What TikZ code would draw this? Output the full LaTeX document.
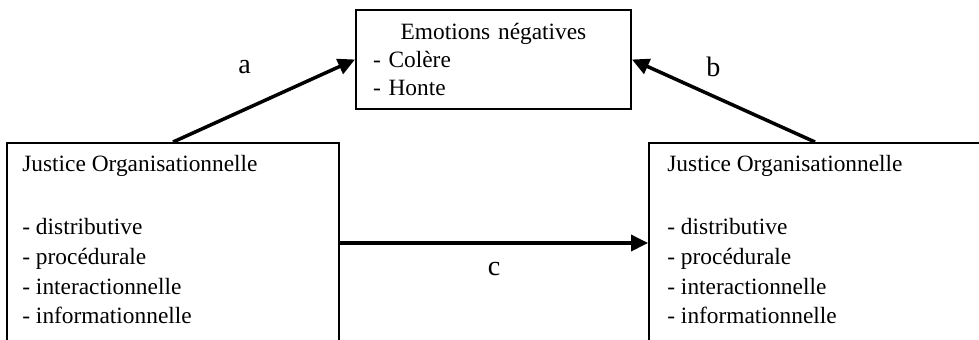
\documentclass[tikz,border=0pt]{standalone}
\usepackage{fontspec}
\setmainfont{Liberation Serif}
\usetikzlibrary{arrows.meta,positioning}

\begin{document}
\begin{tikzpicture}[x=0.02cm,y=-0.02cm,
    box/.style={draw,line width=0.04cm,inner sep=0pt},
    jbox/.style={box,minimum width=6.64cm,minimum height=4cm},
    jtext/.style={inner sep=0pt,align=left,font=\fontsize{13.3}{16.9}\selectfont},
    arr/.style={line width=0.07cm,-{Triangle[length=0.34cm,width=0.32cm]}},
    lbl/.style={font=\fontsize{16}{19}\selectfont}]
    \useasboundingbox (0,0) rectangle (979,339);
    \clip (0,0) rectangle (979,339);
    % boxes
    \node[box,minimum width=5.5cm,minimum height=1.98cm,text width=4.82cm,align=left,
        font=\fontsize{13.3}{16.2}\selectfont] (emo) at (493.5,59.5)
        {\makebox[4.82cm]{Emotions négatives}\\- Colère\\- Honte};
    \node[jbox] (jo1) at (173,243) {};
    \node[jbox] (jo2) at (815,243) {};
    \node[jtext,below right=0.26cm and 0.32cm of jo1.north west] (jo1t)
        {Justice Organisationnelle\\[19pt]- distributive\\- procédurale\\- interactionnelle\\- informationnelle};
    \node[jtext,below right=0.26cm and 0.38cm of jo2.north west] (jo2t)
        {Justice Organisationnelle\\[19pt]- distributive\\- procédurale\\- interactionnelle\\- informationnelle};
    % arrows
    \draw[arr] (jo1.north) -- node[lbl,xshift=-0.39cm,yshift=0.68cm] (la) {a} (emo.west);
    \draw[arr] (jo2.north) -- node[lbl,xshift=-0.2cm,yshift=0.68cm] (lb) {b} (emo.east);
    \draw[arr] (jo1.east) -- node[lbl,yshift=-0.52cm] (lc) {c} (jo2.west);
\end{tikzpicture}
\end{document}
